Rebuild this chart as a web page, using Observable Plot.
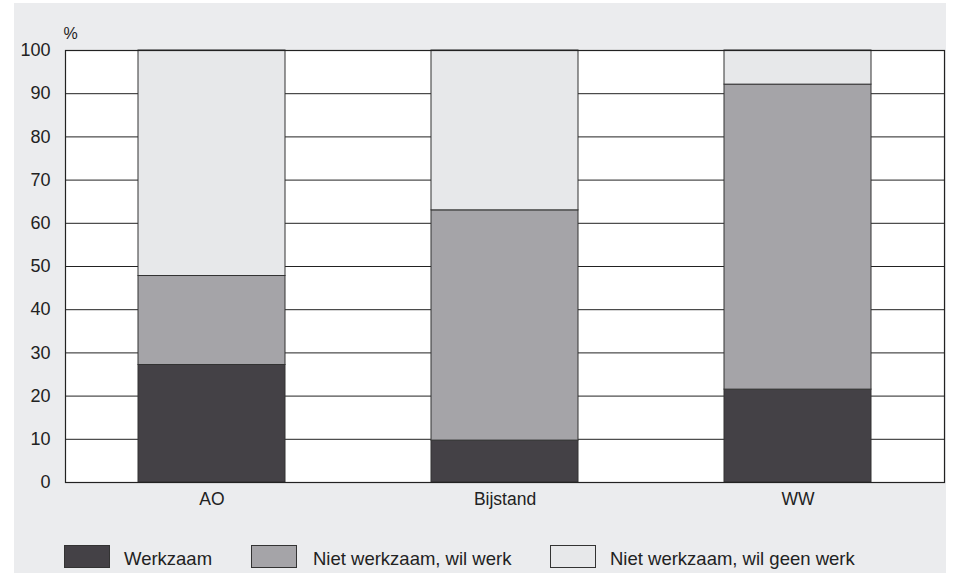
<!DOCTYPE html>
<html>
<head>
<meta charset="utf-8">
<script src="https://cdn.jsdelivr.net/npm/d3@7"></script>
<script src="https://cdn.jsdelivr.net/npm/@observablehq/plot@0.6"></script>
<style>
  html, body { margin: 0; padding: 0; background: #ffffff; }
  body { width: 956px; height: 575px; position: relative; overflow: hidden;
         font-family: "Liberation Sans", Arial, Helvetica, sans-serif; }
  #panel { position: absolute; left: 14px; top: 3px; width: 932px; height: 570px; background: #ebecee; }
  #chart { position: absolute; left: 0; top: 0; }
  #legend { position: absolute; left: 0; top: 0; width: 932px; height: 570px; pointer-events: none; }
  .sw { position: absolute; top: 542px; width: 46px; height: 23px; border: 1px solid #333; box-sizing: border-box; }
  .lt { position: absolute; top: 545px; font-size: 18.5px; color: #222; line-height: 22px; white-space: nowrap; }
</style>
</head>
<body>
<div id="panel">
  <div id="chart"></div>
  <div id="legend"></div>
</div>
<script>
const categories = ["AO", "Bijstand", "WW"];
const series = ["Werkzaam", "Niet werkzaam, wil werk", "Niet werkzaam, wil geen werk"];
const werkzaam = [27.2, 9.7, 21.5];
const wilWerk = [20.6, 53.3, 70.6];
const wilGeenWerk = [52.2, 37.0, 7.9];
const yTicks = [0, 10, 20, 30, 40, 50, 60, 70, 80, 90, 100];
const colors = ["#444146", "#a5a4a8", "#e7e8ea"];

const values = [werkzaam, wilWerk, wilGeenWerk];
const data = [];
series.forEach((s, si) => categories.forEach((c, ci) => data.push({cat: c, series: s, value: values[si][ci]})));

const chart = Plot.plot({
  width: 932,
  height: 520,
  marginLeft: 51,
  marginRight: 2,
  marginTop: 47,
  marginBottom: 41,
  style: {background: "transparent", fontFamily: "'Liberation Sans', Arial, Helvetica, sans-serif", color: "#222"},
  x: {domain: categories, paddingInner: 0.5, paddingOuter: 0.25, label: null},
  y: {domain: [0, 100], ticks: yTicks, label: null},
  color: {domain: series, range: colors},
  marks: [
    Plot.frame({fill: "white", stroke: "none"}),
    Plot.ruleY(yTicks.filter(d => d > 0 && d < 100), {stroke: "#222", strokeWidth: 1}),
    Plot.barY(data, {x: "cat", y: "value", fill: "series", stroke: "#333", strokeWidth: 1, order: series}),
    Plot.frame({stroke: "#222", strokeWidth: 1.2}),
    Plot.axisY({ticks: yTicks, tickSize: 0, tickPadding: 15, fontSize: 18, label: null}),
    Plot.axisX({tickSize: 0, tickPadding: 10, fontSize: 17.5, label: null}),
    Plot.text(["%"], {frameAnchor: "top-left", dx: -2, dy: -23, fontSize: 16, fill: "#222", textAnchor: "start"})
  ]
});
document.getElementById("chart").appendChild(chart);

const legend = document.getElementById("legend");
const swX = [50, 237, 536];
const txX = [110, 299, 596];
series.forEach((s, i) => {
  const sw = document.createElement("div");
  sw.className = "sw";
  sw.style.left = swX[i] + "px";
  sw.style.background = colors[i];
  legend.appendChild(sw);
  const t = document.createElement("div");
  t.className = "lt";
  t.style.left = txX[i] + "px";
  t.textContent = s;
  legend.appendChild(t);
});
</script>
</body>
</html>
